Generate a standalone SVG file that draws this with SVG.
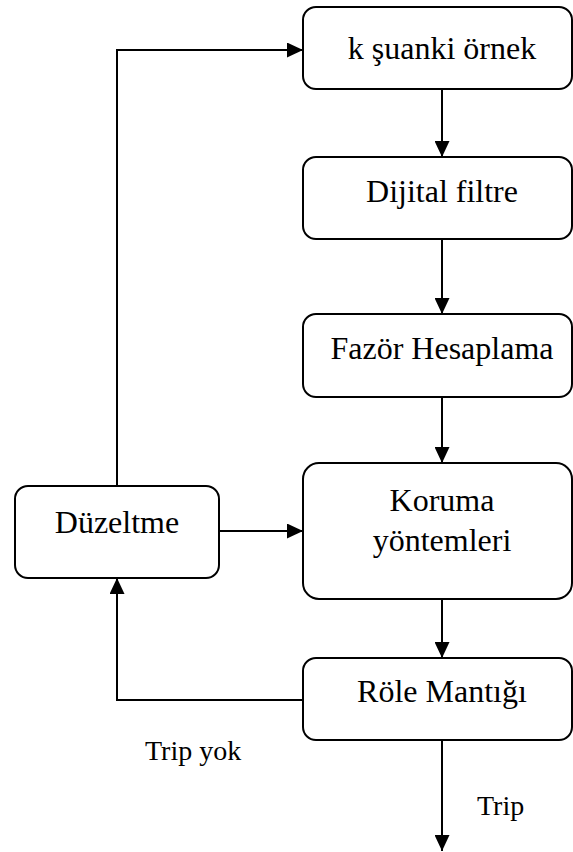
<svg xmlns="http://www.w3.org/2000/svg" width="573" height="852" viewBox="0 0 573 852">
  <style>
    .box { fill: #ffffff; stroke: #000000; stroke-width: 2; }
    .lbl { font-family: "Liberation Serif", "Times New Roman", serif; font-size: 32px; fill: #000000; text-anchor: middle; }
    .note { font-family: "Liberation Serif", "Times New Roman", serif; font-size: 28px; fill: #000000; }
    .wire { fill: none; stroke: #000000; stroke-width: 2; }
  </style>
  <defs>
    <marker id="arrow" viewBox="0 0 16 15" refX="16" refY="7.5" markerWidth="16" markerHeight="15" markerUnits="userSpaceOnUse" orient="auto">
      <path d="M0,0 L16,7.5 L0,15 Z" fill="#000000"/>
    </marker>
  </defs>
  <rect width="573" height="852" fill="#ffffff"/>

  <g id="connectors">
    <!-- main chain -->
    <line class="wire" x1="442" y1="89" x2="442" y2="157" marker-end="url(#arrow)"/>
    <line class="wire" x1="442" y1="239" x2="442" y2="314" marker-end="url(#arrow)"/>
    <line class="wire" x1="442" y1="397" x2="442" y2="463" marker-end="url(#arrow)"/>
    <line class="wire" x1="442" y1="599" x2="442" y2="658" marker-end="url(#arrow)"/>
    <line class="wire" x1="442" y1="740" x2="442" y2="851" marker-end="url(#arrow)"/>
    <!-- feedback: Düzeltme back to sample -->
    <polyline class="wire" points="117,486 117,50 303,50" marker-end="url(#arrow)"/>
    <!-- Düzeltme into Koruma -->
    <line class="wire" x1="219" y1="531" x2="303" y2="531" marker-end="url(#arrow)"/>
    <!-- no trip path back to Düzeltme -->
    <polyline class="wire" points="303,700 117,700 117,578" marker-end="url(#arrow)"/>
  </g>

  <g id="ornek">
    <rect class="box" x="303" y="7" width="269" height="82" rx="13"/>
    <text class="lbl" x="442" y="59">k şuanki örnek</text>
  </g>
  <g id="filtre">
    <rect class="box" x="303" y="157" width="269" height="82" rx="13"/>
    <text class="lbl" x="442" y="202">Dijital filtre</text>
  </g>
  <g id="fazor">
    <rect class="box" x="303" y="314" width="269" height="83" rx="13"/>
    <text class="lbl" x="442" y="359">Fazör Hesaplama</text>
  </g>
  <g id="koruma">
    <rect class="box" x="303" y="463" width="269" height="136" rx="16"/>
    <text class="lbl" x="442" y="511">Koruma</text>
    <text class="lbl" x="442" y="551">yöntemleri</text>
  </g>
  <g id="duzeltme">
    <rect class="box" x="15" y="486" width="204" height="92" rx="13"/>
    <text class="lbl" x="117" y="533">Düzeltme</text>
  </g>
  <g id="role">
    <rect class="box" x="303" y="658" width="269" height="82" rx="13"/>
    <text class="lbl" x="442" y="702">Röle Mantığı</text>
  </g>

  <g id="labels">
    <text class="note" x="145" y="760">Trip yok</text>
    <text class="note" x="477" y="815">Trip</text>
  </g>
</svg>
